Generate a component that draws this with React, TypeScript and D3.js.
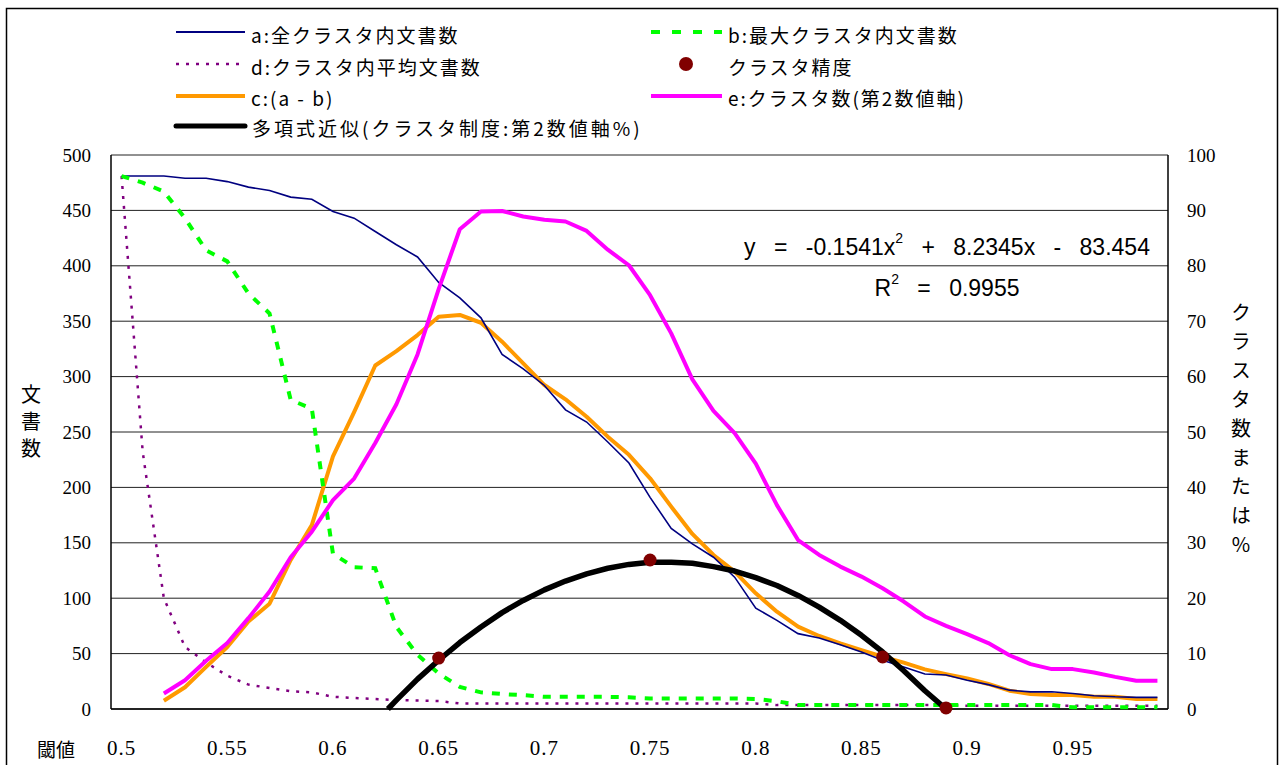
import React from "react";
import * as d3 from "d3";

// thresholds 0.50 .. 0.99 (category axis)
const thresholds = [
  0.5, 0.51, 0.52, 0.53, 0.54, 0.55, 0.56, 0.57, 0.58, 0.59,
  0.6, 0.61, 0.62, 0.63, 0.64, 0.65, 0.66, 0.67, 0.68, 0.69,
  0.7, 0.71, 0.72, 0.73, 0.74, 0.75, 0.76, 0.77, 0.78, 0.79,
  0.8, 0.81, 0.82, 0.83, 0.84, 0.85, 0.86, 0.87, 0.88, 0.89,
  0.9, 0.91, 0.92, 0.93, 0.94, 0.95, 0.96, 0.97, 0.98, 0.99,
];

// a: 全クラスタ内文書数
const seriesA = [
  481, 481, 481, 479, 479, 476, 471, 468, 462, 460,
  449, 443, 431, 419, 408, 385, 371, 353, 320, 307,
  292, 270, 259, 241, 222, 191, 163, 149, 137, 119,
  91, 80, 68, 64, 58, 51.5, 44, 38, 31.6, 30.7,
  26, 22, 17, 15.5, 15.5, 14, 12, 11, 10.5, 10.5,
];

// b: 最大クラスタ内文書数
const seriesB = [
  481, 475, 467, 443, 414, 404, 375, 357, 279, 271,
  140, 128, 127, 74, 49, 32, 20, 15, 13.5, 12.5,
  11, 11, 11, 11, 10.5, 9.5, 9.5, 9.5, 9.5, 9.5,
  9, 7, 3.6, 3.6, 3.6, 3.6, 3.6, 3.6, 3.6, 3.6,
  3.6, 3.6, 3.6, 3.6, 3.6, 1.5, 1.5, 1.5, 1.5, 1.5,
];

// d: クラスタ内平均文書数
const seriesD = [
  481, 232, 100, 56, 42, 30, 22, 19, 16, 15,
  11, 10, 9, 8, 7.7, 7.2, 5, 5, 5, 5,
  5, 5, 5, 5, 5, 5, 5, 5, 5, 5,
  5, 3.5, 3.5, 3.5, 3.5, 3.5, 3.5, 3.5, 3.5, 3.5,
  3, 3, 3, 3, 3, 3, 3, 3, 3, 3,
];

// c: (a - b)
const seriesC = [
  null, null, 7.5, 19.6, 38, 56, 79, 95, 134.5, 166,
  228, 268, 310, 323, 337.5, 354, 355.6, 348.6, 331.5, 312,
  292.4, 279.5, 263.8, 245.8, 229.4, 208.2, 182.6, 158, 139, 124,
  104.4, 87.8, 74.3, 65.9, 59.3, 53.2, 47.2, 41.8, 35.8, 31.5,
  27.5, 22.6, 16.5, 13.5, 12.6, 12.6, 11.1, 11.1, 9, 9,
];

// e: クラスタ数 (secondary axis)
const seriesE = [
  null, null, 2.8, 5.2, 8.7, 11.9, 16.4, 21.2, 27.4, 32,
  37.7, 41.6, 48, 55, 64, 75.8, 86.6, 89.8, 89.9, 88.9,
  88.3, 88, 86.3, 82.9, 80.1, 74.7, 67.8, 59.5, 53.8, 49.8,
  44.3, 36.8, 30.5, 27.8, 25.7, 23.9, 21.8, 19.4, 16.7, 15,
  13.5, 11.9, 9.7, 8.1, 7.2, 7.2, 6.6, 5.8, 5.1, 5.1,
];

// クラスタ精度 (secondary axis)
const precisionX = [0.65, 0.75, 0.86, 0.89];
const precisionY = [9.2, 26.9, 9.4, 0.2];

// 多項式近似 (secondary axis)
const trendX = [
  0.626, 0.63, 0.64, 0.65, 0.66, 0.67, 0.68, 0.69, 0.7, 0.71,
  0.72, 0.73, 0.74, 0.75, 0.76, 0.77, 0.78, 0.79, 0.8, 0.81,
  0.82, 0.83, 0.84, 0.85, 0.86, 0.87, 0.88, 0.89,
];
const trendY = [
  0, 1.6, 5.4, 8.8, 12.0, 14.8, 17.4, 19.6, 21.5, 23.1,
  24.4, 25.4, 26.1, 26.5, 26.5, 26.3, 25.7, 24.9, 23.7, 22.3,
  20.5, 18.4, 16.0, 13.3, 10.3, 6.9, 3.3, 0,
];

const leftTicks = [0, 50, 100, 150, 200, 250, 300, 350, 400, 450, 500];
const rightTicks = [0, 10, 20, 30, 40, 50, 60, 70, 80, 90, 100];
const xTickLabels = ["0.5", "0.55", "0.6", "0.65", "0.7", "0.75", "0.8", "0.85", "0.9", "0.95"];

const leftTitle = "文書数";
const rightTitle = "クラスタ数または%";

const W = 1282;
const H = 765;
const margin = { left: 111, right: 1168, top: 155, bottom: 709 };

const jp = "Noto Sans CJK JP, Noto Sans, sans-serif";
const serif = "Liberation Serif, DejaVu Serif, serif";
const sans = "Liberation Sans, Arial, sans-serif";

export default function App() {
  const x = d3.scaleLinear().domain([0.495, 0.995]).range([margin.left, margin.right]);
  const yL = d3.scaleLinear().domain([0, 500]).range([margin.bottom, margin.top]);
  const yR = d3.scaleLinear().domain([0, 100]).range([margin.bottom, margin.top]);

  const mkLine = (vals: (number | null)[], y: d3.ScaleLinear<number, number>) =>
    d3
      .line<number>()
      .defined((_, i) => vals[i] != null)
      .x((t) => x(t))
      .y((_, i) => y(vals[i] as number))(thresholds) || "";

  const trendPath =
    d3
      .line<number>()
      .x((t) => x(t))
      .y((_, i) => yR(trendY[i]))(trendX) || "";

  const legendLeft = 176;
  const legendRight = 651;

  return (
    <div style={{ position: "absolute", left: 0, top: 0 }}>
      <svg width={W} height={H} style={{ display: "block", background: "#fff" }}>
        {/* chart area border */}
        <rect x={6.5} y={8.5} width={1271} height={800} fill="#fff" stroke="#000" strokeWidth={1.5} />

        {/* gridlines */}
        {leftTicks.map((t) => (
          <line key={"g" + t} x1={margin.left} x2={margin.right} y1={yL(t)} y2={yL(t)} stroke="#222" strokeWidth={1} />
        ))}
        <line x1={margin.left} x2={margin.left} y1={margin.top} y2={margin.bottom} stroke="#000" strokeWidth={1.5} />
        <line x1={margin.right} x2={margin.right} y1={margin.top} y2={margin.bottom} stroke="#000" strokeWidth={1.5} />
        <line x1={margin.left} x2={margin.right} y1={margin.bottom} y2={margin.bottom} stroke="#000" strokeWidth={1.5} />

        {/* tick labels */}
        {leftTicks.map((t) => (
          <text key={"l" + t} x={91} y={yL(t)} textAnchor="end" dominantBaseline="central" fontFamily={serif} fontSize={19}>
            {t}
          </text>
        ))}
        {rightTicks.map((t) => (
          <text key={"r" + t} x={1187} y={yR(t)} textAnchor="start" dominantBaseline="central" fontFamily={serif} fontSize={19}>
            {t}
          </text>
        ))}
        {xTickLabels.map((t) => (
          <text key={"x" + t} x={x(+t)} y={748} textAnchor="middle" dominantBaseline="central" fontFamily={serif} fontSize={21} letterSpacing={1}>
            {t}
          </text>
        ))}

        {/* axis titles */}
        <text x={56} y={748} textAnchor="middle" dominantBaseline="central" fontFamily={jp} fontSize={19}>
          閾値
        </text>
        <text
          x={31}
          y={384}
          fontFamily={jp}
          fontSize={20}
          letterSpacing={7}
          style={{ writingMode: "vertical-rl", textOrientation: "upright" }}
        >
          {leftTitle}
        </text>
        <text
          x={1241}
          y={302}
          fontFamily={jp}
          fontSize={20}
          letterSpacing={9}
          style={{ writingMode: "vertical-rl", textOrientation: "upright" }}
        >
          {rightTitle}
        </text>

        {/* series */}
        <path d={mkLine(seriesD, yL)} fill="none" stroke="#800080" strokeWidth={2.5} strokeDasharray="3,7" />
        <path d={mkLine(seriesC, yL)} fill="none" stroke="#FF9900" strokeWidth={4} strokeLinejoin="round" />
        <path d={mkLine(seriesA, yL)} fill="none" stroke="#000080" strokeWidth={1.6} />
        <path d={mkLine(seriesB, yL)} fill="none" stroke="#00FF00" strokeWidth={4} strokeDasharray="8,9" />
        <path d={mkLine(seriesE, yR)} fill="none" stroke="#FF00FF" strokeWidth={4} strokeLinejoin="round" />
        <path d={trendPath} fill="none" stroke="#000" strokeWidth={5.5} strokeLinejoin="round" />
        {precisionX.map((t, i) => (
          <circle key={"p" + i} cx={x(t)} cy={yR(precisionY[i])} r={6.5} fill="#800000" />
        ))}

        {/* equation */}
        <text x={947} y={247} textAnchor="middle" dominantBaseline="central" fontFamily={sans} fontSize={23} wordSpacing={12}>
          y = -0.1541x<tspan fontSize={14} dy={-9}>2</tspan>
          <tspan dy={9}> + 8.2345x - 83.454</tspan>
        </text>
        <text x={947} y={288} textAnchor="middle" dominantBaseline="central" fontFamily={sans} fontSize={23} wordSpacing={12}>
          R<tspan fontSize={14} dy={-9}>2</tspan>
          <tspan dy={9}> = 0.9955</tspan>
        </text>

        {/* legend */}
        <g fontFamily={jp} fontSize={19} letterSpacing={2}>
          <line x1={legendLeft} x2={legendLeft + 69} y1={32} y2={32} stroke="#000080" strokeWidth={2} />
          <text x={251} y={34} dominantBaseline="central">a:全クラスタ内文書数</text>

          <line x1={legendLeft} x2={legendLeft + 69} y1={64} y2={64} stroke="#800080" strokeWidth={2.5} strokeDasharray="3,7" />
          <text x={251} y={66} dominantBaseline="central">d:クラスタ内平均文書数</text>

          <line x1={legendLeft} x2={legendLeft + 69} y1={96} y2={96} stroke="#FF9900" strokeWidth={4} />
          <text x={251} y={97} dominantBaseline="central">c:(a - b)</text>

          <line x1={legendLeft} x2={legendLeft + 69} y1={126} y2={126} stroke="#000" strokeWidth={5} strokeLinecap="round" />
          <text x={252} y={127} dominantBaseline="central" letterSpacing={3}>多項式近似(クラスタ制度:第2数値軸%)</text>

          <line x1={legendRight} x2={legendRight + 71} y1={32} y2={32} stroke="#00FF00" strokeWidth={4} strokeDasharray="9,12" />
          <text x={728} y={34} dominantBaseline="central">b:最大クラスタ内文書数</text>

          <circle cx={686} cy={64} r={7} fill="#800000" />
          <text x={728} y={66} dominantBaseline="central">クラスタ精度</text>

          <line x1={legendRight} x2={legendRight + 71} y1={96} y2={96} stroke="#FF00FF" strokeWidth={4} />
          <text x={728} y={97} dominantBaseline="central">e:クラスタ数(第2数値軸)</text>
        </g>
      </svg>
    </div>
  );
}
